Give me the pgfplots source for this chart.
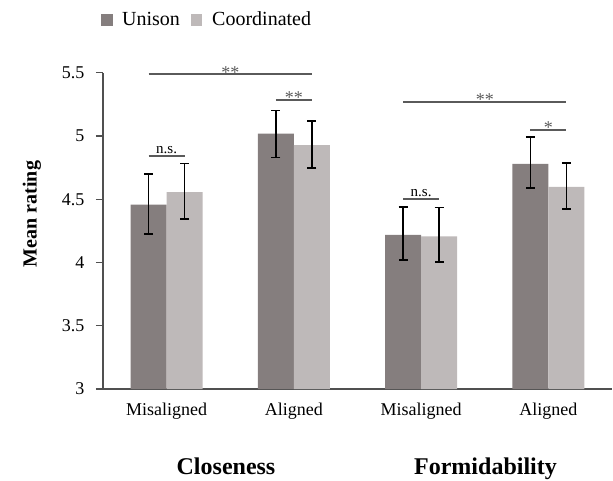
\documentclass[border=0pt]{standalone}
\usepackage{fontspec}
\setmainfont{Liberation Serif}
\usepackage{pgfplots}
\pgfplotsset{compat=1.18}
\usepackage{pgfplotstable}
\definecolor{uni}{HTML}{857E7E}
\definecolor{coo}{HTML}{BEB9B9}
\definecolor{axg}{HTML}{505050}
\definecolor{sig}{HTML}{5A5A5A}

\pgfplotstableread{
x y ep em
0 4.457 0.241 0.231
1 5.018 0.182 0.188
2 4.218 0.222 0.200
3 4.780 0.210 0.190
}\unison
\pgfplotstableread{
x y ep em
0 4.557 0.225 0.211
1 4.927 0.191 0.181
2 4.207 0.226 0.205
3 4.598 0.189 0.173
}\coord

\begin{document}
\begin{tikzpicture}
\path[use as bounding box] (0,0) rectangle (613pt,480pt);
\begin{axis}[
  at={(103pt,91pt)}, anchor=south west,
  scale only axis, width=509pt, height=316.3pt,
  xmin=-0.5, xmax=3.5, ymin=3, ymax=5.5,
  ybar=0pt, bar width=36pt,
  axis lines*=left,
  axis line style={draw=axg, line width=1.3pt, -},
  x axis line style={shorten <=-7pt},
  ytick={3,3.5,4,4.5,5,5.5},
  xtick={0,1,2,3},
  xticklabels={Misaligned,Aligned,Misaligned,Aligned},
  tick align=outside,
  major tick length=7pt,
  tick style={draw=axg, line width=1.3pt},
  x tick style={draw=none},
  tick label style={font=\fontsize{18}{20}\selectfont},
  yticklabel style={xshift=-8pt},
  xticklabel style={yshift=-3pt},
  /pgf/number format/assume math mode=true,
  clip mode=individual,
]
\addplot[fill=uni, draw=none, error bars/.cd, y dir=both, y explicit,
   error bar style={line width=1.6pt, draw=black},
   error mark=|, error mark options={draw=black, line width=1.6pt, mark size=4.5pt}]
  table[x=x, y=y, y error plus=ep, y error minus=em]{\unison};
\addplot[fill=coo, draw=none, error bars/.cd, y dir=both, y explicit,
   error bar style={line width=1.6pt, draw=black},
   error mark=|, error mark options={draw=black, line width=1.6pt, mark size=4.5pt}]
  table[x=x, y=y, y error plus=ep, y error minus=em]{\coord};

\tikzset{sigline/.style={draw=sig, line width=1.8pt},
  stars/.style={midway, anchor=base, yshift=-4pt, inner sep=0pt, text=sig, font=\fontsize{18}{18}\selectfont},
  ns/.style={midway, anchor=base, yshift=2.7pt, inner sep=0pt, text=black, font=\fontsize{15}{15}\selectfont}}
\draw[sigline] ([xshift=-18pt]axis cs:0,5.488) -- ([xshift=18pt]axis cs:1,5.488) node[stars]{**};
\draw[sigline] ([xshift=-18pt]axis cs:1,5.286) -- ([xshift=18pt]axis cs:1,5.286) node[stars]{**};
\draw[sigline] ([xshift=-18pt]axis cs:0,4.843) -- ([xshift=18pt]axis cs:0,4.843) node[ns]{n.s.};
\draw[sigline] ([xshift=-18pt]axis cs:2,5.27) -- ([xshift=18pt]axis cs:3,5.27) node[stars]{**};
\draw[sigline] ([xshift=-18pt]axis cs:3,5.05) -- ([xshift=18pt]axis cs:3,5.05) node[stars]{*};
\draw[sigline] ([xshift=-18pt]axis cs:2,4.50) -- ([xshift=18pt]axis cs:2,4.50) node[ns]{n.s.};
\end{axis}

\fill[uni] (100.7pt,454.3pt) rectangle (112.7pt,465.7pt);
\node[anchor=base west, inner sep=0pt, font=\fontsize{20}{24}\selectfont] at (122pt,454.3pt) {Unison};
\fill[coo] (190.7pt,454.3pt) rectangle (202pt,465.7pt);
\node[anchor=base west, inner sep=0pt, font=\fontsize{20}{24}\selectfont] at (212pt,454.3pt) {Coordinated};

\node[anchor=base, rotate=90, inner sep=0pt, font=\bfseries\fontsize{20}{24}\selectfont] at (36.7pt,266pt) {Mean rating};
\node[anchor=base, inner sep=0pt, font=\bfseries\fontsize{24}{28}\selectfont] at (226pt,6pt) {Closeness};
\node[anchor=base, inner sep=0pt, font=\bfseries\fontsize{24}{28}\selectfont] at (485.5pt,6pt) {Formidability};
\end{tikzpicture}
\end{document}
